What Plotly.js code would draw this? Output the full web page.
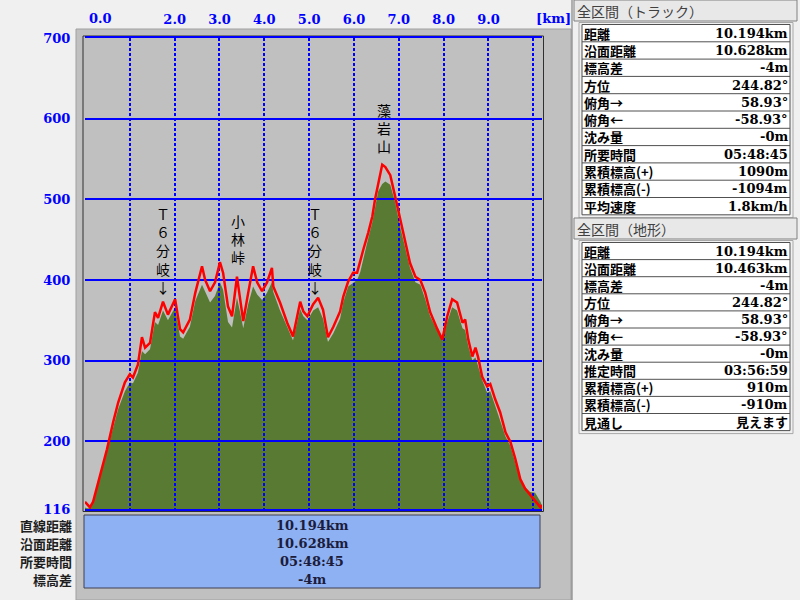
<!DOCTYPE html>
<html><head><meta charset="utf-8">
<script src="https://cdn.plot.ly/plotly-3.0.1.min.js"></script>
<style>html,body{margin:0;padding:0;background:#f0f0f0;}#chart{width:800px;height:600px;}</style>
</head><body><div id="chart"></div>
<script>
// ---- data ----
const distKm = [0.00,0.04,0.11,0.18,0.33,0.49,0.63,0.74,0.89,1.00,1.07,1.18,1.27,1.34,1.45,1.56,1.63,1.74,1.85,2.01,
  2.12,2.19,2.34,2.46,2.61,2.68,2.79,2.90,3.01,3.08,3.19,3.28,3.39,3.46,3.53,3.64,3.75,3.84,3.95,4.06,
  4.17,4.20,4.35,4.51,4.64,4.80,4.87,4.96,5.09,5.20,5.31,5.42,5.54,5.69,5.76,5.87,5.98,6.07,6.14,6.21,
  6.32,6.41,6.47,6.54,6.63,6.70,6.81,6.92,7.03,7.14,7.25,7.37,7.48,7.59,7.70,7.86,7.97,8.08,8.19,8.30,
  8.42,8.48,8.55,8.64,8.71,8.77,8.86,8.97,9.04,9.15,9.26,9.38,9.49,9.60,9.71,9.82,9.93,10.04,10.16,10.194];
const trackElev = [125,122,118,125,157,190,224,248,273,283,279,295,329,316,322,360,353,373,357,376,
  339,335,351,384,417,400,386,397,422,409,367,355,404,376,349,384,417,397,386,397,
  415,392,372,347,330,373,361,355,370,378,363,329,342,361,379,398,409,409,422,438,
  459,479,500,520,543,540,530,503,475,450,421,404,400,384,360,339,326,355,376,372,
  347,351,326,305,316,304,280,268,271,252,236,211,199,178,153,141,134,126,118,121];
const terrainElev = [118,117,117,124,155,188,220,240,262,273,272,285,312,308,314,348,344,362,350,366,
  330,327,342,374,394,386,372,380,397,388,348,341,378,360,340,370,392,382,375,384,
  397,385,362,342,325,364,355,350,362,366,352,323,334,352,372,392,397,400,410,428,
  452,472,490,510,519,522,518,496,466,441,415,397,394,376,355,337,325,348,366,362,
  340,338,318,300,304,293,276,260,262,244,227,206,194,174,152,143,137,136,125,120];
const yTickVals = [116,200,300,400,500,600,700];
const yTickText = ['116','200','300','400','500','600','700'];
const xTickVals = [0,1,2,3,4,5,6,7,8,9,10];
const xTickText = ['','','2.0','3.0','4.0','5.0','6.0','7.0','8.0','9.0',''];
const firstXLabel = '0.0';
const unitLabel = '[km]';
const peakNames = ['Ｔ<br>６<br>分<br>岐<br>↓','小<br>林<br>峠','Ｔ<br>６<br>分<br>岐<br>↓','藻<br>岩<br>山'];
const peakKm = [1.74, 3.42, 5.13, 6.67];
const peakElev = [376, 413, 376, 551];
const summaryLabels = ['直線距離','沿面距離','所要時間','標高差'];
const summaryValues = ['10.194km','10.628km','05:48:45','-4m'];
const trackTitle = '全区間（トラック）';
const trackLabels = ['距離','沿面距離','標高差','方位','俯角→','俯角←','沈み量','所要時間','累積標高(+)','累積標高(-)','平均速度'];
const trackValues = ['10.194km','10.628km','-4m','244.82°','58.93°','-58.93°','-0m','05:48:45','1090m','-1094m','1.8km/h'];
const terrainTitle = '全区間（地形）';
const terrainLabels = ['距離','沿面距離','標高差','方位','俯角→','俯角←','沈み量','推定時間','累積標高(+)','累積標高(-)','見通し'];
const terrainValues = ['10.194km','10.463km','-4m','244.82°','58.93°','-58.93°','-0m','03:56:59','910m','-910m','見えます'];

// ---- layout helpers (pixel -> paper) ----
const P = x => x / 800;
const Q = y => 1 - y / 600;
const xDom = [P(85), P(542)];
const yDom = [Q(509), Q(38)];
const numFont = 'DejaVu Serif, Noto Sans CJK JP, serif';
const jpFont = 'Noto Sans CJK JP, sans-serif';
const blueTick = {family: numFont, size: 13, color: '#0000ff', weight: 'bold'};

const traces = [
  {x: distKm, y: terrainElev, xaxis: 'x', yaxis: 'y', type: 'scatter', mode: 'lines',
   fill: 'tozeroy', fillcolor: '#587a33', line: {width: 0, color: '#587a33'}, hoverinfo: 'skip'},
  {x: distKm, y: trackElev, xaxis: 'x2', yaxis: 'y2', type: 'scatter', mode: 'lines',
   line: {color: '#ff0000', width: 2.5}, hoverinfo: 'skip'}
];

const shapes = [
  {type: 'rect', xref: 'paper', yref: 'paper', x0: P(76), x1: P(571), y0: Q(600), y1: Q(29),
   fillcolor: '#c0c0c0', line: {color: '#a0a0a0', width: 1}, layer: 'below'},
  {type: 'rect', xref: 'paper', yref: 'paper', x0: P(83), x1: P(543.5), y0: Q(511.5), y1: Q(36),
   fillcolor: 'rgba(0,0,0,0)', line: {color: '#303030', width: 1}, layer: 'below'},
  {type: 'rect', xref: 'paper', yref: 'paper', x0: P(84), x1: P(540), y0: Q(588), y1: Q(515),
   fillcolor: '#8db1f3', line: {color: '#404050', width: 1}, layer: 'below'},
  {type: 'line', xref: 'paper', yref: 'paper', x0: P(572), x1: P(572), y0: 0, y1: 1,
   line: {color: '#707070', width: 1}, layer: 'below'}
];
const annotations = [
  {xref: 'x2', yref: 'paper', x: 0, xshift: 15, y: Q(19), xanchor: 'center', yanchor: 'middle',
   text: firstXLabel, showarrow: false, font: blueTick},
  {xref: 'paper', yref: 'paper', x: P(553), y: Q(19), xanchor: 'center', yanchor: 'middle',
   text: unitLabel, showarrow: false, font: blueTick}
];
peakNames.forEach((t, i) => annotations.push({
  xref: 'x2', yref: 'y2', x: peakKm[i], y: peakElev[i], xanchor: 'center', yanchor: 'bottom', text: t, showarrow: false,
  font: {family: jpFont, size: 14, color: '#000000'}
}));
const sumY = [525, 543, 561, 579];
summaryLabels.forEach((t, i) => {
  annotations.push({xref: 'paper', yref: 'paper', x: P(73), y: Q(sumY[i]), xanchor: 'right', yanchor: 'middle', text: t,
    showarrow: false, borderpad: 0, font: {family: jpFont, size: 13, color: '#1e1e1e', weight: 'bold'}});
  annotations.push({xref: 'paper', yref: 'paper', x: P(312), y: Q(sumY[i]), xanchor: 'center', yanchor: 'middle',
    text: summaryValues[i], showarrow: false, borderpad: 0, font: {family: numFont, size: 13, color: '#1c1c3c', weight: 'bold'}});
});

function panel(title, labels, values, top, pitch) {
  shapes.push({type: 'rect', xref: 'paper', yref: 'paper', x0: P(574), x1: P(797), y0: Q(top + 21), y1: Q(top),
    fillcolor: '#e8e8e8', line: {color: '#808080', width: 1}});
  annotations.push({xref: 'paper', yref: 'paper', x: P(576), y: Q(top + 11), xanchor: 'left', yanchor: 'middle', text: title,
    showarrow: false, borderpad: 0, font: {family: jpFont, size: 14, color: '#404040'}});
  const t0 = top + 24.5;
  const n = labels.length;
  shapes.push({type: 'rect', xref: 'paper', yref: 'paper', x0: P(579), x1: P(793), y0: Q(t0 + n * pitch + 3), y1: Q(t0 - 2),
    fillcolor: 'rgba(0,0,0,0)', line: {color: '#a8a8a8', width: 1}});
  shapes.push({type: 'rect', xref: 'paper', yref: 'paper', x0: P(582), x1: P(790), y0: Q(t0 + n * pitch), y1: Q(t0),
    fillcolor: '#ffffff', line: {color: '#505050', width: 1}});
  for (let i = 1; i < n; i++) {
    shapes.push({type: 'line', xref: 'paper', yref: 'paper', x0: P(582), x1: P(790),
      y0: Q(t0 + i * pitch), y1: Q(t0 + i * pitch), line: {color: '#505050', width: 1}});
  }
  labels.forEach((t, i) => {
    const yc = t0 + (i + 0.5) * pitch;
    annotations.push({xref: 'paper', yref: 'paper', x: P(583), y: Q(yc), xanchor: 'left', yanchor: 'middle', text: t,
      showarrow: false, borderpad: 0, font: {family: jpFont, size: 13, color: '#000000', weight: 'bold'}});
    annotations.push({xref: 'paper', yref: 'paper', x: P(789), y: Q(yc), xanchor: 'right', yanchor: 'middle', text: values[i],
      showarrow: false, borderpad: 0, font: {family: numFont, size: 13, color: '#000000', weight: 'bold'}});
  });
}
panel(trackTitle, trackLabels, trackValues, 0, 17.3);
panel(terrainTitle, terrainLabels, terrainValues, 218, 17.1);

const axCommon = {domain: xDom, range: [0, 10.194], zeroline: false, fixedrange: true};
const layout = {
  width: 800, height: 600, margin: {l: 0, r: 0, t: 0, b: 0},
  paper_bgcolor: '#f0f0f0', plot_bgcolor: 'rgba(0,0,0,0)', showlegend: false,
  xaxis: Object.assign({}, axCommon, {anchor: 'y', showgrid: false, showticklabels: false, showline: false}),
  yaxis: {domain: yDom, range: [116, 700], anchor: 'x', showgrid: false, showticklabels: false, zeroline: false, fixedrange: true},
  xaxis2: Object.assign({}, axCommon, {anchor: 'y2', side: 'top', tickmode: 'array', tickvals: xTickVals, ticktext: xTickText,
    showgrid: true, gridcolor: '#0000ff', gridwidth: 2, griddash: '3px,2px',
    ticks: 'outside', ticklen: 7, tickcolor: 'rgba(0,0,0,0)', tickfont: blueTick,
    showline: true, linecolor: '#0000ff', linewidth: 2, mirror: true}),
  yaxis2: {domain: yDom, range: [116, 700], anchor: 'x2', tickmode: 'array', tickvals: yTickVals, ticktext: yTickText,
    showgrid: true, gridcolor: '#0000ff', gridwidth: 2, zeroline: false, fixedrange: true,
    ticks: 'outside', ticklen: 11, tickcolor: 'rgba(0,0,0,0)', tickfont: blueTick, showline: false},
  shapes: shapes, annotations: annotations
};
Plotly.newPlot('chart', traces, layout, {staticPlot: true, displayModeBar: false});
</script></body></html>
